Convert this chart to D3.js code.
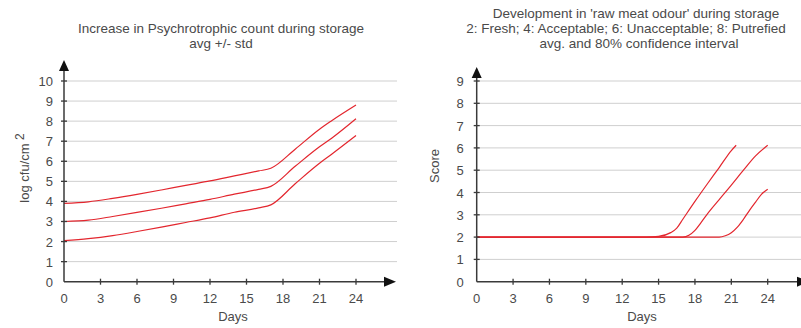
<!DOCTYPE html>
<html>
<head>
<meta charset="utf-8">
<script src="https://cdn.jsdelivr.net/npm/d3@7/dist/d3.min.js"></script>
<style>
  body { margin: 0; background: #fff; }
  svg text { font-family: "Liberation Sans", Arial, sans-serif; fill: #4a4a4a; }
</style>
</head>
<body>
<svg id="chart" width="801" height="328"></svg>
<script>
// [A] Datos -------------------------------------------------------------------
// Panel izquierdo: recuento psicrotrofico (media, +std, -std)
const psychroDays  = [0, 2, 4, 6, 8, 10, 12, 14, 16, 17, 19, 21, 22, 24];
const psychroUpper = [3.9, 3.98, 4.15, 4.35, 4.57, 4.8, 5.02, 5.27, 5.52, 5.65, 6.6, 7.6, 8.02, 8.8];
const psychroAvg   = [3.0, 3.07, 3.25, 3.45, 3.66, 3.88, 4.1, 4.36, 4.6, 4.75, 5.75, 6.72, 7.15, 8.12];
const psychroLower = [2.05, 2.15, 2.3, 2.5, 2.72, 2.95, 3.18, 3.46, 3.68, 3.83, 4.88, 5.9, 6.35, 7.28];

// Panel derecho: olor a carne cruda (limite alto, media, limite bajo)
const odourHighDays = [0, 14, 15, 16, 16.5, 17, 18, 19, 20, 21, 21.4];
const odourHigh     = [2, 2, 2.03, 2.2, 2.4, 2.8, 3.6, 4.37, 5.12, 5.88, 6.12];
const odourAvgDays  = [0, 17, 17.5, 18, 18.5, 19, 20, 21, 22, 23, 24];
const odourAvg      = [2, 2, 2.08, 2.3, 2.65, 3.02, 3.68, 4.33, 5.0, 5.64, 6.12];
const odourLowDays  = [0, 20, 20.5, 21, 21.5, 22, 22.5, 23, 23.5, 24];
const odourLow      = [2, 2, 2.06, 2.2, 2.45, 2.8, 3.2, 3.57, 3.93, 4.15];

const dayTicks = [0, 3, 6, 9, 12, 15, 18, 21, 24];
const psychroTicks = [0, 1, 2, 3, 4, 5, 6, 7, 8, 9, 10];
const odourTicks = [0, 1, 2, 3, 4, 5, 6, 7, 8, 9];

const psychroTitle = ["Increase in Psychrotrophic count during storage", "avg +/- std"];
const odourTitle = [
  "Development in 'raw meat odour' during storage",
  "2: Fresh; 4: Acceptable; 6: Unacceptable; 8: Putrefied",
  "avg. and 80% confidence interval"
];

// [B] Configuracion -----------------------------------------------------------
const svg = d3.select("#chart");
const lineColor = "#e3262e";
const axisColor = "#3a3a3a";
const gridColor = "#cfcfcf";
const tickFont = 13;
const titleFont = 13.5;

const zip = (xs, ys) => xs.map((d, i) => [d, ys[i]]);

// [C] Dibuja un panel ---------------------------------------------------------
function drawPanel(cfg) {
  const x = d3.scaleLinear().domain([0, 24]).range([cfg.x0, cfg.x24]);
  const y = d3.scaleLinear().domain([0, cfg.yMax]).range([281.7, 81]);
  const g = svg.append("g");

  // rejilla
  g.selectAll(".grid")
    .data(cfg.yTicks.filter(d => d > 0))
    .join("line")
    .attr("x1", cfg.x0).attr("x2", cfg.gridEnd)
    .attr("y1", d => y(d)).attr("y2", d => y(d))
    .attr("stroke", gridColor).attr("stroke-width", 1);

  // series
  const line = d3.line()
    .x(d => x(d[0])).y(d => y(d[1]))
    .curve(d3.curveMonotoneX);
  g.selectAll(".series")
    .data(cfg.series)
    .join("path")
    .attr("d", line)
    .attr("fill", "none")
    .attr("stroke", lineColor)
    .attr("stroke-width", 1.2);

  // ejes
  const y0 = y(0);
  g.append("line")
    .attr("x1", cfg.x0).attr("x2", cfg.arrowX - 11)
    .attr("y1", y0).attr("y2", y0)
    .attr("stroke", axisColor).attr("stroke-width", 1.5);
  g.append("line")
    .attr("x1", cfg.x0).attr("x2", cfg.x0)
    .attr("y1", y0).attr("y2", cfg.arrowY + 9)
    .attr("stroke", axisColor).attr("stroke-width", 1.5);
  g.append("path")
    .attr("d", `M${cfg.arrowX},${y0} L${cfg.arrowX - 12},${y0 - 5} L${cfg.arrowX - 12},${y0 + 5} Z`)
    .attr("fill", "#111");
  g.append("path")
    .attr("d", `M${cfg.x0},${cfg.arrowY} L${cfg.x0 - 5},${cfg.arrowY + 11} L${cfg.x0 + 5},${cfg.arrowY + 11} Z`)
    .attr("fill", "#111");

  // marcas y etiquetas del eje x
  g.selectAll(".xtick")
    .data(dayTicks.filter(d => d > 0))
    .join("line")
    .attr("x1", d => x(d)).attr("x2", d => x(d))
    .attr("y1", y0 - 3).attr("y2", y0 + 3)
    .attr("stroke", axisColor).attr("stroke-width", 1.3);
  g.selectAll(".xlab")
    .data(dayTicks)
    .join("text")
    .attr("x", d => x(d)).attr("y", 303)
    .attr("text-anchor", "middle")
    .attr("font-size", tickFont)
    .text(d => d);

  // marcas y etiquetas del eje y
  g.selectAll(".ytick")
    .data(cfg.yTicks.filter(d => d > 0))
    .join("line")
    .attr("x1", cfg.x0 - 3).attr("x2", cfg.x0 + 3)
    .attr("y1", d => y(d)).attr("y2", d => y(d))
    .attr("stroke", axisColor).attr("stroke-width", 1.3);
  g.selectAll(".ylab")
    .data(cfg.yTicks)
    .join("text")
    .attr("x", cfg.x0 - cfg.labelGap).attr("y", d => y(d) + 5)
    .attr("text-anchor", "end")
    .attr("font-size", tickFont)
    .text(d => d);

  // titulos de ejes
  g.append("text")
    .attr("x", cfg.daysX).attr("y", 321)
    .attr("text-anchor", "middle")
    .attr("font-size", tickFont)
    .text("Days");

  const yl = g.append("text")
    .attr("transform", `translate(${cfg.yLabelX},${cfg.yLabelY}) rotate(-90)`)
    .attr("text-anchor", "middle")
    .attr("font-size", tickFont);
  yl.append("tspan").text(cfg.yLabel);
  if (cfg.yLabelSup) {
    yl.append("tspan").attr("dy", -5).attr("font-size", 12).text(" " + cfg.yLabelSup);
  }

  // titulo
  g.selectAll(".title")
    .data(cfg.title)
    .join("text")
    .attr("x", (d, i) => cfg.titleX[i])
    .attr("y", (d, i) => cfg.titleY[i])
    .attr("text-anchor", "middle")
    .attr("font-size", titleFont)
    .text(d => d);
}

// [D] Panel izquierdo ---------------------------------------------------------
drawPanel({
  x0: 64, x24: 356, yMax: 10, gridEnd: 397,
  arrowX: 396, arrowY: 60, labelGap: 11,
  yTicks: psychroTicks,
  series: [zip(psychroDays, psychroUpper), zip(psychroDays, psychroAvg), zip(psychroDays, psychroLower)],
  daysX: 233, yLabelX: 29, yLabelY: 168,
  yLabel: "log cfu/cm", yLabelSup: "2",
  title: psychroTitle, titleX: [221, 221], titleY: [33, 48]
});

// [E] Panel derecho -----------------------------------------------------------
drawPanel({
  x0: 476.7, x24: 767.7, yMax: 9, gridEnd: 801,
  arrowX: 809, arrowY: 67, labelGap: 13,
  yTicks: odourTicks,
  series: [zip(odourHighDays, odourHigh), zip(odourAvgDays, odourAvg), zip(odourLowDays, odourLow)],
  daysX: 642, yLabelX: 439, yLabelY: 166,
  yLabel: "Score",
  title: odourTitle, titleX: [636, 626, 639], titleY: [18, 33, 48]
});
</script>
</body>
</html>
